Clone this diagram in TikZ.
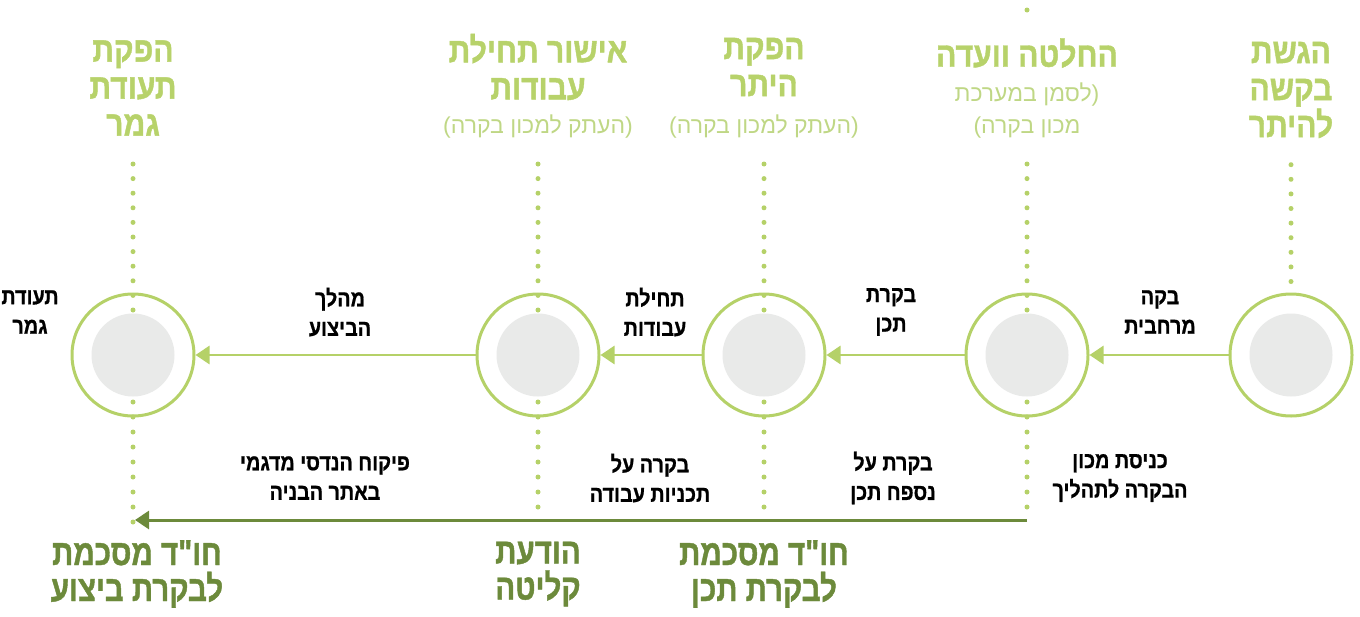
\documentclass[tikz,border=0pt]{standalone}
\usepackage{fontspec}
\usetikzlibrary{arrows.meta}
\TeXXeTstate=1
\newfontfamily\heb[Script=Hebrew]{Liberation Sans}
\newfontfamily\hebh[Script=Hebrew,FakeStretch=0.86,BoldFeatures={FakeBold=1.2}]{Liberation Sans}
\newfontfamily\hebl[Script=Hebrew,FakeStretch=0.86,BoldFeatures={FakeBold=0.8}]{Liberation Sans}
\newfontfamily\hebf[Script=Hebrew,FakeStretch=0.82,BoldFeatures={FakeBold=1.2}]{Liberation Sans}
\newcommand{\RL}[1]{\beginR #1\endR}
\definecolor{lgreen}{HTML}{B5D168}
\definecolor{lgtext}{HTML}{B7D26A}
\definecolor{subgreen}{HTML}{BFD785}
\definecolor{dgreen}{HTML}{6C8A3B}
\definecolor{ringgray}{HTML}{E9EAE9}
\tikzset{
  ring/.style={circle, draw=lgreen, line width=3pt, fill=white, minimum size=122pt, inner sep=0pt},
  core/.style={circle, fill=ringgray, minimum size=83pt, inner sep=0pt},
  dotline/.style={draw=lgreen, line width=5pt, line cap=round, dash pattern=on 0pt off 14.6pt},
  dotlow/.style={draw=lgreen, line width=5pt, line cap=round, dash pattern=on 0pt off 15pt},
  harrow/.style={draw=lgreen, line width=2.8pt, -{Triangle[length=14pt,width=18pt]}},
  barrow/.style={draw=dgreen, line width=3pt, -{Triangle[length=14pt,width=18pt]}},
  head/.style={text=lgtext, align=center, font=\hebh\bfseries\fontsize{35}{37}\selectfont, inner sep=0pt},
  sub/.style={text=subgreen, align=center, font=\heb\fontsize{23}{32}\selectfont, inner sep=0pt},
  lab/.style={text=black, align=center, font=\hebl\bfseries\fontsize{23}{29.5}\selectfont, inner sep=0pt},
  foot/.style={text=dgreen, align=center, font=\hebf\bfseries\fontsize{36}{36}\selectfont, inner sep=0pt},
}
\begin{document}
\begin{tikzpicture}[x=1pt,y=-1pt]
\useasboundingbox (0,0) rectangle (1360,616);
% rings
\foreach \n/\xx in {1/1291,2/1027,3/764,4/538,5/133}{
  \node[ring] (r\n) at (\xx,355) {};
}
% dotted guides
\path[dotline] (1291,281.5) -- (1291,150.6);
\foreach \xx in {133,538,764,1027}{
  \path[dotline] (\xx,310) -- (\xx,150.6);
}
\foreach \xx in {538,764,1027}{
  \path[dotlow] (\xx,402) -- (\xx,507);
}
\path[dotlow] (133,402) -- (133,522);
\fill[lgreen] (1027,10) circle (2.5pt);
% cores
\foreach \n/\xx in {1/1291,2/1027,3/764,4/538,5/133}{
  \node[core] (k\n) at (\xx,355) {};
}
% horizontal arrows
\draw[harrow] (r1.west) -- (r2.east);
\draw[harrow] (r2.west) -- (r3.east);
\draw[harrow] (r3.west) -- (r4.east);
\draw[harrow] (r4.west) -- (r5.east);
% bottom arrow
\coordinate (bs) at (1027,520);
\coordinate (be) at (135,520);
\draw[barrow] (bs) -- (be);
% headings
\node[head] (h1) at (1291,90) {\RL{הגשת}\\\RL{בקשה}\\\RL{להיתר}};
\node[head] (h2) at (1027,53) {\RL{החלטה וועדה}};
\node[sub] (s2) at (1027,111) {\RL{(לסמן במערכת}\\\RL{מכון בקרה)}};
\node[head] (h3) at (764,67) {\RL{הפקת}\\\RL{היתר}};
\node[sub] (s3) at (764,127) {\RL{(העתק למכון בקרה)}};
\node[head] (h4) at (538,67) {\RL{אישור תחילת}\\\RL{עבודות}};
\node[sub] (s4) at (538,127) {\RL{(העתק למכון בקרה)}};
\node[head] (h5) at (133,88) {\RL{הפקת}\\\RL{תעודת}\\\RL{גמר}};
% labels above arrows
\node[lab] (a1) at (1160,312) {\RL{בקה}\\\RL{מרחבית}};
\node[lab] (a2) at (891,312) {\RL{בקרת}\\\RL{תכן}};
\node[lab] (a3) at (655,312) {\RL{תחילת}\\\RL{עבודות}};
\node[lab] (a4) at (340,312) {\RL{מהלך}\\\RL{הביצוע}};
\node[lab] (a5) at (30,312) {\RL{תעודת}\\\RL{גמר}};
% labels below
\node[lab] (b1) at (1120,478) {\RL{כניסת מכון}\\\RL{הבקרה לתהליך}};
\node[lab] (b2) at (893,478) {\RL{בקרת על}\\\RL{נספח תכן}};
\node[lab] (b3) at (650,478) {\RL{בקרה על}\\\RL{תכניות עבודה}};
\node[lab] (b4) at (325,478) {\RL{פיקוח הנדסי מדגמי}\\\RL{באתר הבניה}};
% footers
\node[foot] (f1) at (137,574) {\RL{חו"ד מסכמת}\\\RL{לבקרת ביצוע}};
\node[foot] (f2) at (538,574) {\RL{הודעת}\\\RL{קליטה}};
\node[foot] (f3) at (764,574) {\RL{חו"ד מסכמת}\\\RL{לבקרת תכן}};
\end{tikzpicture}
\end{document}
